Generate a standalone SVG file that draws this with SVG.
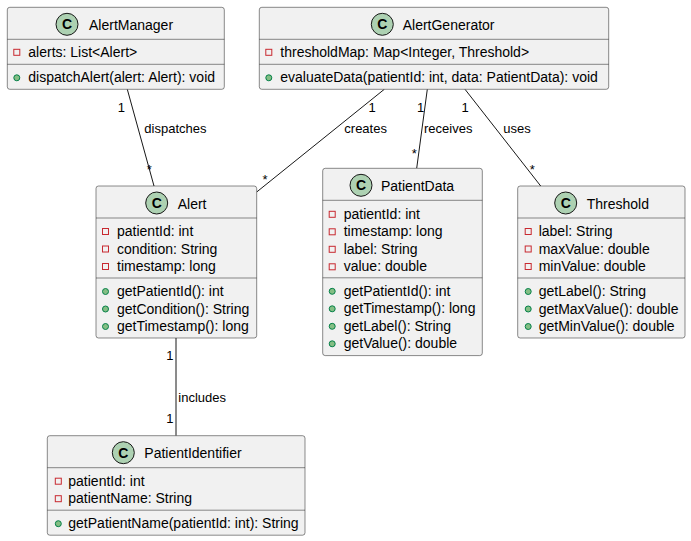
<svg xmlns="http://www.w3.org/2000/svg" width="691" height="541" viewBox="0 0 691 541">
<defs>
<style>
.box{fill:#F1F1F1;stroke:#181818;stroke-width:0.5}
.sep{stroke:#181818;stroke-width:0.5}
.ci{fill:#ADD1B2;stroke:#181818;stroke-width:1}
.cl{font-family:"Liberation Sans",Arial,sans-serif;font-size:14px;font-weight:bold;fill:#000;text-anchor:middle}
.t{font-family:"Liberation Sans",Arial,sans-serif;font-size:14px;fill:#000}
.e{font-family:"Liberation Sans",Arial,sans-serif;font-size:13px;fill:#000}
.pv{fill:none;stroke:#C82930;stroke-width:1}
.pb{fill:#84BE84;stroke:#038048;stroke-width:1}
.ln{stroke:#181818;stroke-width:1;fill:none}
</style>
</defs>
<rect width="691" height="541" fill="#FFFFFF"/>

<g id="connectors">
<line class="ln" x1="127.3" y1="89.3" x2="154" y2="186"/>
<text class="e" x="117.8" y="111.7">1</text>
<text class="e" x="144.3" y="133.3">dispatches</text>
<text class="e" x="146.8" y="174">*</text>

<line class="ln" x1="384.3" y1="89.3" x2="256.7" y2="192"/>
<text class="e" x="368.5" y="111.7">1</text>
<text class="e" x="344.3" y="133.3">creates</text>
<text class="e" x="262.5" y="184">*</text>

<line class="ln" x1="427.3" y1="89.3" x2="416.7" y2="168.3"/>
<text class="e" x="417" y="111.7">1</text>
<text class="e" x="424" y="133.3">receives</text>
<text class="e" x="411.8" y="157.5">*</text>

<line class="ln" x1="465" y1="89.3" x2="540.7" y2="186"/>
<text class="e" x="461.5" y="111.7">1</text>
<text class="e" x="503.3" y="133.3">uses</text>
<text class="e" x="529.8" y="174">*</text>

<line class="ln" x1="176" y1="338" x2="176" y2="435.7"/>
<text class="e" x="166.3" y="360">1</text>
<text class="e" x="178.3" y="401.5">includes</text>
<text class="e" x="166.3" y="422.5">1</text>
</g>

<g id="AlertManager">
<rect class="box" x="7.3" y="7.3" width="217" height="82" rx="2.5"/>
<circle class="ci" cx="67" cy="24.3" r="11"/>
<text class="cl" x="67" y="29.3">C</text>
<text class="t" x="89" y="29.8">AlertManager</text>
<line class="sep" x1="7.3" y1="39.3" x2="224.3" y2="39.3"/>
<rect class="pv" x="13.8" y="49.3" width="6" height="6"/>
<text class="t" x="28.3" y="57.3">alerts: List&lt;Alert&gt;</text>
<line class="sep" x1="7.3" y1="64.3" x2="224.3" y2="64.3"/>
<circle class="pb" cx="16.8" cy="77.8" r="3"/>
<text class="t" x="28.3" y="82.3">dispatchAlert(alert: Alert): void</text>
</g>

<g id="AlertGenerator">
<rect class="box" x="259.3" y="7.3" width="349.4" height="82" rx="2.5"/>
<circle class="ci" cx="382.3" cy="24.3" r="11"/>
<text class="cl" x="382.3" y="29.3">C</text>
<text class="t" x="402.7" y="29.8">AlertGenerator</text>
<line class="sep" x1="259.3" y1="39.3" x2="608.7" y2="39.3"/>
<rect class="pv" x="265.8" y="49.3" width="6" height="6"/>
<text class="t" x="280.3" y="57.3">thresholdMap: Map&lt;Integer, Threshold&gt;</text>
<line class="sep" x1="259.3" y1="64.3" x2="608.7" y2="64.3"/>
<circle class="pb" cx="268.8" cy="77.8" r="3"/>
<text class="t" x="280.3" y="82.3">evaluateData(patientId: int, data: PatientData): void</text>
</g>

<g id="Alert">
<rect class="box" x="96" y="186" width="160.7" height="152" rx="2.5"/>
<circle class="ci" cx="156.7" cy="203" r="11"/>
<text class="cl" x="156.7" y="208">C</text>
<text class="t" x="177.7" y="208.5">Alert</text>
<line class="sep" x1="96" y1="218" x2="256.7" y2="218"/>
<rect class="pv" x="102.5" y="228.5" width="6" height="6"/>
<text class="t" x="117" y="236">patientId: int</text>
<rect class="pv" x="102.5" y="246" width="6" height="6"/>
<text class="t" x="117" y="253.5">condition: String</text>
<rect class="pv" x="102.5" y="263.5" width="6" height="6"/>
<text class="t" x="117" y="271">timestamp: long</text>
<line class="sep" x1="96" y1="278" x2="256.7" y2="278"/>
<circle class="pb" cx="105.5" cy="291.5" r="3"/>
<text class="t" x="117" y="296">getPatientId(): int</text>
<circle class="pb" cx="105.5" cy="309" r="3"/>
<text class="t" x="117" y="313.5">getCondition(): String</text>
<circle class="pb" cx="105.5" cy="326.5" r="3"/>
<text class="t" x="117" y="331">getTimestamp(): long</text>
</g>

<g id="PatientData">
<rect class="box" x="322.7" y="168.3" width="159.6" height="187.3" rx="2.5"/>
<circle class="ci" cx="361" cy="185.3" r="11"/>
<text class="cl" x="361" y="190.3">C</text>
<text class="t" x="381" y="190.8">PatientData</text>
<line class="sep" x1="322.7" y1="200.3" x2="482.3" y2="200.3"/>
<rect class="pv" x="329.2" y="211.3" width="6" height="6"/>
<text class="t" x="343.7" y="218.8">patientId: int</text>
<rect class="pv" x="329.2" y="228.8" width="6" height="6"/>
<text class="t" x="343.7" y="236.3">timestamp: long</text>
<rect class="pv" x="329.2" y="246.3" width="6" height="6"/>
<text class="t" x="343.7" y="253.8">label: String</text>
<rect class="pv" x="329.2" y="263.8" width="6" height="6"/>
<text class="t" x="343.7" y="271.3">value: double</text>
<line class="sep" x1="322.7" y1="277.8" x2="482.3" y2="277.8"/>
<circle class="pb" cx="332.2" cy="291.3" r="3"/>
<text class="t" x="343.7" y="295.8">getPatientId(): int</text>
<circle class="pb" cx="332.2" cy="308.8" r="3"/>
<text class="t" x="343.7" y="313.3">getTimestamp(): long</text>
<circle class="pb" cx="332.2" cy="326.3" r="3"/>
<text class="t" x="343.7" y="330.8">getLabel(): String</text>
<circle class="pb" cx="332.2" cy="343.8" r="3"/>
<text class="t" x="343.7" y="348.3">getValue(): double</text>
</g>

<g id="Threshold">
<rect class="box" x="517.7" y="186" width="167.3" height="152" rx="2.5"/>
<circle class="ci" cx="565.7" cy="203" r="11"/>
<text class="cl" x="565.7" y="208">C</text>
<text class="t" x="586.7" y="208.5">Threshold</text>
<line class="sep" x1="517.7" y1="218" x2="685" y2="218"/>
<rect class="pv" x="525.2" y="228.5" width="6" height="6"/>
<text class="t" x="538.7" y="236">label: String</text>
<rect class="pv" x="525.2" y="246" width="6" height="6"/>
<text class="t" x="538.7" y="253.5">maxValue: double</text>
<rect class="pv" x="525.2" y="263.5" width="6" height="6"/>
<text class="t" x="538.7" y="271">minValue: double</text>
<line class="sep" x1="517.7" y1="278" x2="685" y2="278"/>
<circle class="pb" cx="528.2" cy="291.5" r="3"/>
<text class="t" x="538.7" y="296">getLabel(): String</text>
<circle class="pb" cx="528.2" cy="309" r="3"/>
<text class="t" x="538.7" y="313.5">getMaxValue(): double</text>
<circle class="pb" cx="528.2" cy="326.5" r="3"/>
<text class="t" x="538.7" y="331">getMinValue(): double</text>
</g>

<g id="PatientIdentifier">
<rect class="box" x="47.3" y="435.7" width="257.7" height="99.5" rx="2.5"/>
<circle class="ci" cx="123.3" cy="452.7" r="11"/>
<text class="cl" x="123.3" y="457.7">C</text>
<text class="t" x="144.3" y="458.2">PatientIdentifier</text>
<line class="sep" x1="47.3" y1="467.7" x2="305" y2="467.7"/>
<rect class="pv" x="55.3" y="478.2" width="6" height="6"/>
<text class="t" x="68.3" y="485.7">patientId: int</text>
<rect class="pv" x="55.3" y="495.7" width="6" height="6"/>
<text class="t" x="68.3" y="503.2">patientName: String</text>
<line class="sep" x1="47.3" y1="510.2" x2="305" y2="510.2"/>
<circle class="pb" cx="58.3" cy="523.7" r="3"/>
<text class="t" x="68.3" y="528.2">getPatientName(patientId: int): String</text>
</g>
</svg>
